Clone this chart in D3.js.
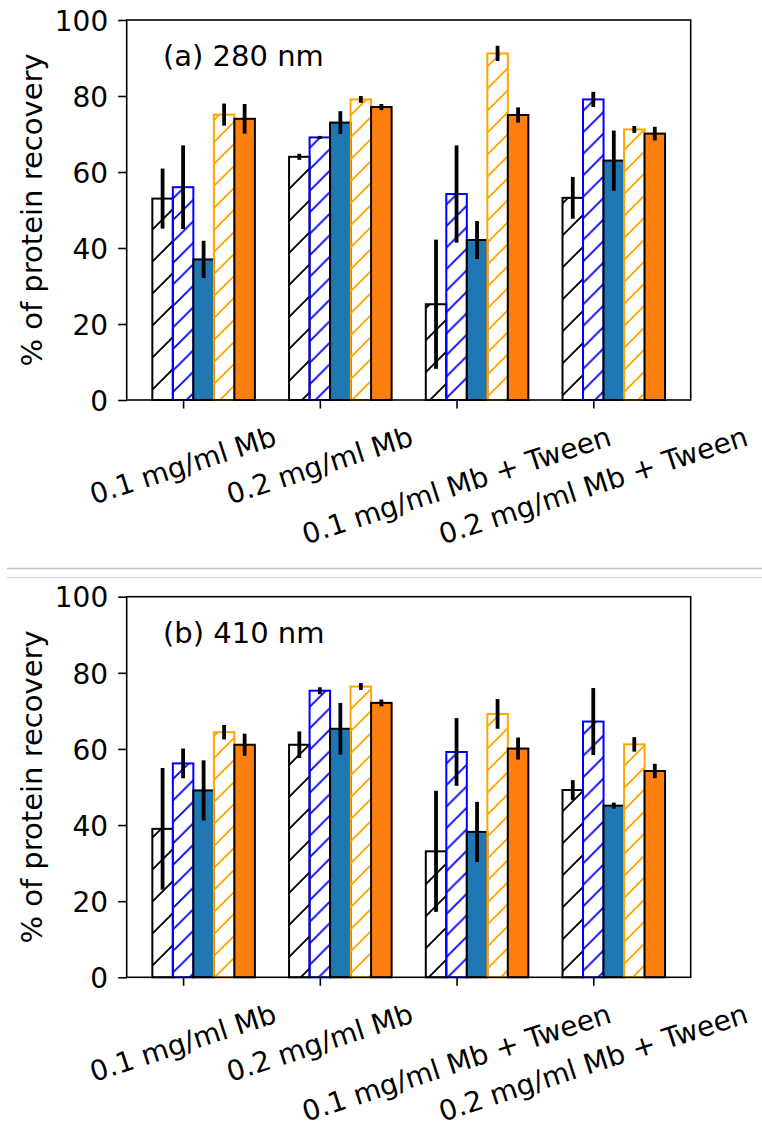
<!DOCTYPE html>
<html>
<head>
<meta charset="utf-8">
<script src="https://cdn.jsdelivr.net/npm/d3@7"></script>
<style>
  html, body { margin: 0; padding: 0; background: #ffffff; }
  svg { display: block; }
  text { font-family: "DejaVu Sans", sans-serif; fill: #000; }
</style>
</head>
<body>
<svg id="chart" width="762" height="1139"></svg>
<script>
// Sample groups on the x axis
const categories = ["0.1 mg/ml Mb", "0.2 mg/ml Mb", "0.1 mg/ml Mb + Tween", "0.2 mg/ml Mb + Tween"];
const yTicks = [0, 20, 40, 60, 80, 100];

// (a) absorbance at 280 nm: mean recovery (%) and error per series
const a280_s1 = [53, 64, 25.2, 53.2];
const a280_s1Err = [7.9, 0.8, 17, 5.5];
const a280_s2 = [56, 69.1, 54.2, 79.1];
const a280_s2Err = [11, 0.4, 12.8, 2];
const a280_s3 = [37, 73, 42.1, 63];
const a280_s3Err = [4.9, 3, 5, 7.9];
const a280_s4 = [75.1, 79.1, 91.2, 71.2];
const a280_s4Err = [2.9, 0.9, 2, 0.9];
const a280_s5 = [74, 77.1, 75, 70.1];
const a280_s5Err = [3.9, 0.8, 2, 1.8];

// (b) absorbance at 410 nm
const a410_s1 = [39, 61.1, 33.1, 49.2];
const a410_s1Err = [16, 3.5, 15.9, 2.6];
const a410_s2 = [56.2, 75.3, 59.2, 67.2];
const a410_s2Err = [3.9, 0.9, 8.9, 8.8];
const a410_s3 = [49.1, 65.3, 38.2, 45.1];
const a410_s3Err = [7.9, 6.8, 7.9, 0.8];
const a410_s4 = [64.4, 76.4, 69.2, 61.2];
const a410_s4Err = [1.9, 0.9, 3.9, 1.9];
const a410_s5 = [61.1, 72.1, 60.1, 54.2];
const a410_s5Err = [2.9, 0.9, 2.9, 1.9];

// Visual style of each of the five series (hatched outlines or solid fills)
const seriesStyles = [
  { hatch: "#000000", edge: "#000000", spacing: 32, phase: -2 },
  { hatch: "#0000ff", edge: "#0000ff", spacing: 21.5, phase: 6 },
  { fill: "#1f77b4", edge: "#000000" },
  { hatch: "#ffa500", edge: "#ffa500", spacing: 22, phase: 4 },
  { fill: "#ff7f0e", edge: "#000000" }
];

const panels = [
  { title: "(a) 280 nm", top: 20, bottom: 400,
    values: [a280_s1, a280_s2, a280_s3, a280_s4, a280_s5],
    errors: [a280_s1Err, a280_s2Err, a280_s3Err, a280_s4Err, a280_s5Err] },
  { title: "(b) 410 nm", top: 596.7, bottom: 977.3,
    values: [a410_s1, a410_s2, a410_s3, a410_s4, a410_s5],
    errors: [a410_s1Err, a410_s2Err, a410_s3Err, a410_s4Err, a410_s5Err] }
];

const FONT = 29;       // titles and axis label
const TICK_FONT = 28;  // tick labels
const LABEL_ROT = 18;  // category label rotation (degrees)
const left = 126.7, right = 690.7;
const barW = 0.15;
const offsets = [-0.15, 0, 0.15, 0.3, 0.45];

const svg = d3.select("#chart");
svg.append("rect").attr("width", 762).attr("height", 1139).attr("fill", "#fff");

// Hatch patterns: diagonal "/" lines
const defs = svg.append("defs");
seriesStyles.forEach((st, i) => {
  if (!st.hatch) return;
  const s = st.spacing;
  const p = defs.append("pattern")
    .attr("id", "hatch" + i)
    .attr("patternUnits", "userSpaceOnUse")
    .attr("width", s).attr("height", s)
    .attr("patternTransform", `translate(${st.phase},0)`);
  p.append("path")
    .attr("d", `M0,${s} L${s},0 M-2,2 L2,-2 M${s - 2},${s + 2} L${s + 2},${s - 2}`)
    .attr("stroke", st.hatch).attr("stroke-width", 1.9).attr("fill", "none");
});

const x = d3.scaleLinear().domain([-0.4125, 3.7125]).range([left, right]);

panels.forEach(panel => {
  const y = d3.scaleLinear().domain([0, 100]).range([panel.bottom, panel.top]);
  const g = svg.append("g");

  // bars
  panel.values.forEach((vals, si) => {
    const st = seriesStyles[si];
    g.append("g").selectAll("rect").data(vals).join("rect")
      .attr("x", (d, i) => x(i + offsets[si] - barW / 2))
      .attr("width", x(barW) - x(0))
      .attr("y", d => y(d))
      .attr("height", d => y(0) - y(d))
      .attr("fill", st.hatch ? `url(#hatch${si})` : st.fill)
      .attr("stroke", st.edge)
      .attr("stroke-width", 2);
  });

  // error bars
  panel.values.forEach((vals, si) => {
    const errs = panel.errors[si];
    g.append("g").selectAll("line").data(vals).join("line")
      .attr("x1", (d, i) => x(i + offsets[si]))
      .attr("x2", (d, i) => x(i + offsets[si]))
      .attr("y1", (d, i) => y(d - errs[i]))
      .attr("y2", (d, i) => y(d + errs[i]))
      .attr("stroke", "#000").attr("stroke-width", 3.8);
  });

  // frame
  g.append("rect")
    .attr("x", left).attr("y", panel.top)
    .attr("width", right - left).attr("height", panel.bottom - panel.top)
    .attr("fill", "none").attr("stroke", "#000").attr("stroke-width", 1.6);

  // y axis
  const yAxis = d3.axisLeft(y).tickValues(yTicks).tickSize(8.5).tickPadding(10).tickFormat(d3.format("d"));
  const ya = g.append("g").attr("transform", `translate(${left},0)`).call(yAxis);
  ya.select(".domain").remove();
  ya.selectAll(".tick line").attr("stroke", "#000").attr("stroke-width", 1.6);
  ya.selectAll(".tick text").attr("font-size", TICK_FONT).attr("font-family", "DejaVu Sans").attr("fill", "#000")
    .attr("dy", "0.364em");

  // x axis ticks
  const xAxis = d3.axisBottom(x).tickValues(d3.range(categories.length)).tickSize(8.5).tickFormat("");
  const xa = g.append("g").attr("transform", `translate(0,${panel.bottom})`).call(xAxis);
  xa.select(".domain").remove();
  xa.selectAll(".tick line").attr("stroke", "#000").attr("stroke-width", 1.6);

  // rotated category labels: rotated box centred on the tick, top just below the axis
  const a = LABEL_ROT * Math.PI / 180;
  const topY = panel.bottom + 20;
  categories.forEach((c, i) => {
    const t = g.append("text")
      .attr("font-size", TICK_FONT)
      .attr("text-anchor", "middle")
      .text(c);
    const b = t.node().getBBox();
    const corners = [[b.x, b.y], [b.x + b.width, b.y], [b.x, b.y + b.height], [b.x + b.width, b.y + b.height]]
      .map(([px, py]) => [px * Math.cos(a) + py * Math.sin(a), -px * Math.sin(a) + py * Math.cos(a)]);
    const minX = d3.min(corners, d => d[0]), maxX = d3.max(corners, d => d[0]);
    const minY = d3.min(corners, d => d[1]);
    const tx = x(i) - (minX + maxX) / 2;
    const ty = topY - minY;
    t.attr("transform", `translate(${tx},${ty}) rotate(${-LABEL_ROT})`);
  });

  // y axis title
  g.append("text")
    .attr("font-size", FONT)
    .attr("text-anchor", "middle")
    .attr("transform", `translate(42,${(panel.top + panel.bottom) / 2}) rotate(-90)`)
    .text("% of protein recovery");

  // panel title
  g.append("text")
    .attr("font-size", FONT)
    .attr("x", 163).attr("y", panel.top + 46)
    .text(panel.title);
});

// divider between the two panels
svg.append("line").attr("x1", 7).attr("x2", 762).attr("y1", 568.5).attr("y2", 568.5)
  .attr("stroke", "#c4c4c4").attr("stroke-width", 1.4);
svg.append("line").attr("x1", 7).attr("x2", 762).attr("y1", 577.5).attr("y2", 577.5)
  .attr("stroke", "#dcdcdc").attr("stroke-width", 1.4);
</script>
</body>
</html>
